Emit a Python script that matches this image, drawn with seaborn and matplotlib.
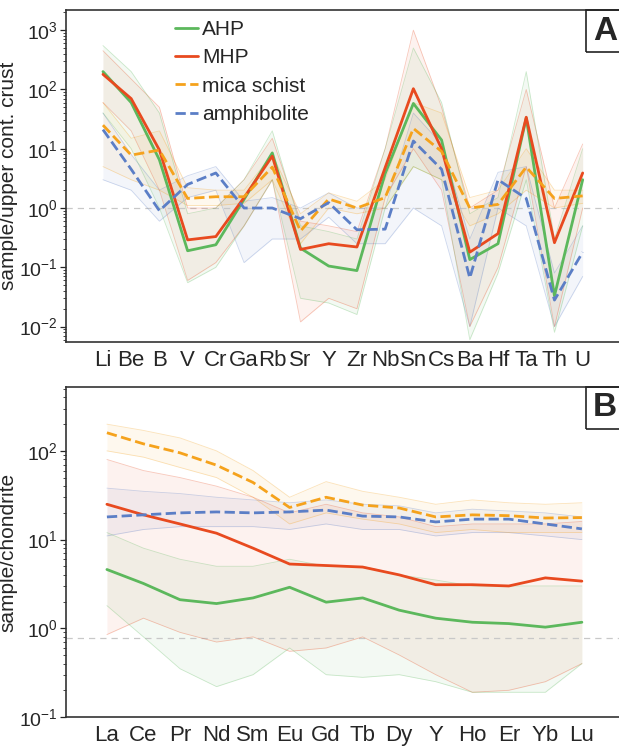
import numpy as np
import matplotlib
matplotlib.use("Agg")
import matplotlib.pyplot as plt
from matplotlib import font_manager
import seaborn as sns

# ---- data ----
trace_elems = ["Li", "Be", "B", "V", "Cr", "Ga", "Rb", "Sr", "Y", "Zr",
               "Nb", "Sn", "Cs", "Ba", "Hf", "Ta", "Th", "U"]

ahp_ucc = [200, 60, 6.5, 0.19, 0.24, 1.4, 8.5, 0.21, 0.105, 0.088,
           3.8, 58, 14, 0.135, 0.25, 33, 0.033, 3.0]
mhp_ucc = [180, 70, 9.5, 0.29, 0.33, 1.5, 7.5, 0.2, 0.25, 0.22,
           4.8, 103, 10, 0.18, 0.37, 34, 0.26, 3.9]
mica_ucc = [25, 7.8, 9.5, 1.45, 1.55, 1.55, 4.9, 0.41, 1.42, 1.0,
            1.5, 22, 9, 1.0, 1.15, 4.9, 1.45, 1.6]
amph_ucc = [21, 4.5, 0.9, 2.5, 3.9, 1.0, 1.0, 0.66, 1.23, 0.43,
            0.44, 13.5, 4.5, 0.066, 3.0, 1.45, 0.028, 0.18]

# spread of the individual samples (upper / lower envelope)
ahp_ucc_hi = [550, 200, 40, 0.8, 1.0, 3, 20, 0.5, 0.4, 0.3,
              10, 500, 60, 0.8, 1.5, 200, 0.3, 10]
ahp_ucc_lo = [40, 10, 1.0, 0.055, 0.1, 0.5, 3, 0.03, 0.025, 0.016,
              1.0, 5, 3, 0.006, 0.08, 3, 0.008, 0.5]
mhp_ucc_hi = [450, 150, 50, 1.0, 1.0, 3, 15, 0.6, 0.5, 0.4,
              10, 1000, 50, 1.0, 2.0, 100, 1.0, 12]
mhp_ucc_lo = [60, 20, 2.0, 0.06, 0.12, 0.5, 3, 0.012, 0.03, 0.02,
              1.5, 10, 2, 0.01, 0.1, 5, 0.01, 1.0]
mica_ucc_hi = [60, 15, 20, 2.2, 2.0, 2.0, 8, 0.8, 1.8, 1.3,
               3, 60, 40, 1.5, 2.0, 10, 2.0, 2.0]
mica_ucc_lo = [5, 3, 2, 1.1, 1.1, 1.2, 3, 0.25, 1.0, 0.8,
               1.0, 5, 3, 0.5, 0.8, 2, 1.0, 1.2]
amph_ucc_hi = [40, 8, 2, 3.5, 5, 1.3, 1.5, 1.0, 1.8, 1.0,
               1.0, 40, 12, 0.3, 4, 5, 0.08, 0.5]
amph_ucc_lo = [3, 2, 0.6, 1.5, 2, 0.12, 0.3, 0.3, 0.7, 0.25,
               0.25, 1, 0.5, 0.01, 1, 0.5, 0.01, 0.07]

ree_elems = ["La", "Ce", "Pr", "Nd", "Sm", "Eu", "Gd", "Tb", "Dy", "Y",
             "Ho", "Er", "Yb", "Lu"]

ahp_chon = [4.6, 3.2, 2.1, 1.9, 2.2, 2.9, 1.97, 2.2, 1.6, 1.3,
            1.17, 1.13, 1.03, 1.17]
mhp_chon = [25, 19, 15, 11.8, 8, 5.3, 5.1, 4.9, 4.0, 3.1,
            3.1, 3.0, 3.7, 3.4]
mica_chon = [160, 120, 95, 69, 44, 23, 30, 24.5, 22.7, 18,
             19, 18.6, 17.5, 17.7]
amph_chon = [18, 19, 20, 20.5, 20, 20.5, 21.5, 18.4, 18, 15.8,
             17, 17, 15, 13.2]

ahp_chon_hi = [12, 8, 6, 5, 5, 6, 5, 5, 4, 3.5, 3, 3, 3, 3]
ahp_chon_lo = [1.8, 0.8, 0.35, 0.22, 0.3, 0.6, 0.3, 0.28, 0.3, 0.25,
               0.19, 0.19, 0.19, 0.4]
mhp_chon_hi = [80, 60, 50, 40, 30, 20, 25, 20, 18, 14, 15, 15, 15, 16]
mhp_chon_lo = [0.85, 1.3, 0.9, 0.7, 0.8, 0.55, 0.6, 0.8, 0.5, 0.3,
               0.19, 0.2, 0.25, 0.4]
mica_chon_hi = [200, 170, 140, 100, 60, 30, 45, 35, 30, 25, 28, 26, 25, 26]
mica_chon_lo = [100, 85, 65, 50, 30, 15, 20, 17, 15, 12, 13, 12, 12, 12]
amph_chon_hi = [38, 35, 33, 30, 28, 26, 28, 25, 24, 20, 22, 21, 20, 18]
amph_chon_lo = [11, 13, 14, 14, 14, 13, 15, 13, 13, 11, 12, 12, 11, 10]

groups = ["AHP", "MHP", "mica schist", "amphibolite"]
colors = {"AHP": "#5cb85c", "MHP": "#e84a1f",
          "mica schist": "#f5a21c", "amphibolite": "#5b7ec6"}
styles = {"AHP": "-", "MHP": "-", "mica schist": "--", "amphibolite": "--"}

# ---- style ----
sns.set_style("white")
plt.rcParams["font.family"] = ["Liberation Sans", "DejaVu Sans"]
plt.rcParams["axes.edgecolor"] = "#333333"

# the reference uses a squeezed sans for the axis texts
names = {f.name for f in font_manager.fontManager.ttflist}
narrow = ["Liberation Sans Narrow", "Liberation Sans", "DejaVu Sans"]
if "Liberation Sans Narrow" not in names:
    narrow = ["Liberation Sans", "DejaVu Sans"]

W, H = 619, 749
fig = plt.figure(figsize=(W / 100, H / 100), dpi=100)


def px_axes(left, top, right, bottom):
    return fig.add_axes([left / W, 1 - bottom / H, (right - left) / W, (bottom - top) / H])


def draw_panel(ax, elems, med, hi, lo, ylim, ref, ylabel, tag):
    x = np.arange(len(elems))
    for g in ["amphibolite", "mica schist", "MHP", "AHP"]:
        ax.fill_between(x, lo[g], hi[g], color=colors[g], alpha=0.07, lw=0)
        ax.plot(x, hi[g], color=colors[g], lw=0.6, alpha=0.3)
        ax.plot(x, lo[g], color=colors[g], lw=0.6, alpha=0.3)
    ax.axhline(ref, color="#c8c8c8", lw=0.9, ls=(0, (5, 4)), zorder=1)
    for i, g in enumerate(groups):
        sns.lineplot(x=x, y=med[g], ax=ax, color=colors[g], lw=2.0,
                     linestyle=styles[g], label=g, zorder=5 + i)
    ax.set_yscale("log")
    ax.set_ylim(*ylim)
    ax.set_xticks(x)
    ax.set_xticklabels(elems, fontsize=16, family=narrow)
    ax.tick_params(axis="x", length=0, pad=6)
    ax.tick_params(axis="y", which="major", length=4, width=0.9, labelsize=14,
                   left=True, pad=2)
    ax.tick_params(axis="y", which="minor", length=2, width=0.6, left=True)
    for t in ax.get_yticklabels():
        t.set_family(narrow)
    ax.set_ylabel(ylabel, fontsize=15, labelpad=1)
    for s in ax.spines.values():
        s.set_linewidth(1.2)
    ax.spines["right"].set_visible(False)
    # panel letter box in the top right corner
    bx0 = 586 / W
    fig.patches.append(plt.Rectangle((bx0, 1 - tag[1] / H), 0.1, 42 / H,
                                     transform=fig.transFigure, fill=False,
                                     ec="#222222", lw=1.2, zorder=20))
    fig.text(605 / W, 1 - (tag[1] - 21) / H, tag[0], fontsize=24,
             fontweight="bold", ha="center", va="center")


ax1 = px_axes(66, 10, 625, 342)
ax1.set_xlim(-1.31, 18.5)
draw_panel(ax1, trace_elems,
           {"AHP": ahp_ucc, "MHP": mhp_ucc, "mica schist": mica_ucc, "amphibolite": amph_ucc},
           {"AHP": ahp_ucc_hi, "MHP": mhp_ucc_hi, "mica schist": mica_ucc_hi, "amphibolite": amph_ucc_hi},
           {"AHP": ahp_ucc_lo, "MHP": mhp_ucc_lo, "mica schist": mica_ucc_lo, "amphibolite": amph_ucc_lo},
           (10 ** -2.26, 10 ** 3.34), 1.0, "sample/upper cont. crust", ("A", 52))
ax1.legend(loc="upper left", bbox_to_anchor=(0.18, 0.995), frameon=False,
           fontsize=15, handlelength=1.1, handletextpad=0.2, labelspacing=0.45,
           borderaxespad=0)

ax2 = px_axes(66, 387, 625, 717)
ax2.set_xlim(-1.12, 14.18)
draw_panel(ax2, ree_elems,
           {"AHP": ahp_chon, "MHP": mhp_chon, "mica schist": mica_chon, "amphibolite": amph_chon},
           {"AHP": ahp_chon_hi, "MHP": mhp_chon_hi, "mica schist": mica_chon_hi, "amphibolite": amph_chon_hi},
           {"AHP": ahp_chon_lo, "MHP": mhp_chon_lo, "mica schist": mica_chon_lo, "amphibolite": amph_chon_lo},
           (0.1, 10 ** 2.72), 0.78, "sample/chondrite", ("B", 429))
ax2.get_legend().remove()

fig.savefig("out.png", dpi=100)
